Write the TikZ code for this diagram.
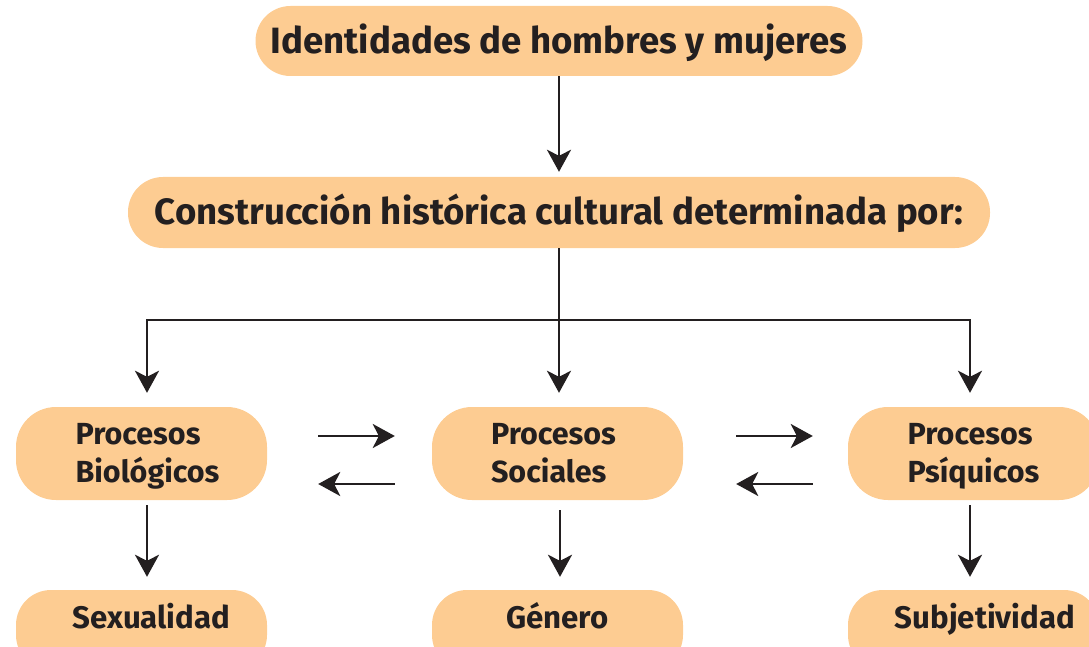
\documentclass[tikz,border=0pt]{standalone}
\usepackage{fontspec}
\setmainfont{Fira Sans}
\usetikzlibrary{arrows.meta}
\definecolor{boxfill}{RGB}{253,204,146}
\definecolor{ink}{RGB}{35,31,32}
\begin{document}
\begin{tikzpicture}[x=1pt,y=-1pt,
  box/.style={fill=boxfill, rounded corners=#1, inner sep=0pt, text=ink},
  box/.default=35pt,
  bigtext/.style={font=\bfseries\fontsize{36.6}{40}\selectfont, text height=25pt, text depth=0pt},
  midbox/.style={box=40pt, minimum width=251pt, minimum height=93pt, align=left,
     font=\bfseries\fontsize{30.5}{38}\selectfont},
  botbox/.style={box=35pt, minimum width=251pt, minimum height=80pt,
     font=\bfseries\fontsize{31.2}{34}\selectfont, text height=21pt, text depth=25pt},
  conn/.style={draw=ink, line width=2.5pt},
  arr/.style={conn, -{Stealth[length=22pt,width=24pt,inset=6pt]}}]
\useasboundingbox (0,0) rectangle (1089,647);
\clip (0,0) rectangle (1089,647);

\node[box, minimum width=607pt, minimum height=70pt, bigtext] (top) at (559,41) {Identidades de hombres y mujeres};
\node[box, minimum width=862pt, minimum height=71pt, bigtext] (second) at (559,212.5) {Construcción histórica cultural determinada por:};

\node[midbox] (bio) at (141.5,453.5) {\rule{12pt}{0pt}\rule{0pt}{27pt}Procesos\\\rule{12pt}{0pt}Biológicos\rule[-7pt]{0pt}{7pt}};
\node[midbox] (soc) at (557.5,453.5) {\rule{0pt}{27pt}Procesos\rule{8pt}{0pt}\\Sociales\rule[-7pt]{0pt}{7pt}};
\node[midbox] (psi) at (973.5,453.5) {\rule{0pt}{27pt}Procesos\\Psíquicos\rule[-7pt]{0pt}{7pt}};

\node[botbox] (sex) at (141.5,630) {\hspace{20pt}Sexualidad};
\node[botbox] (gen) at (557.5,630) {Género\hspace{13pt}};
\node[botbox] (sub) at (973.5,630) {\hspace{23pt}Subjetividad};

\coordinate (split) at (559,320);
\draw[arr, shorten >=5pt] (top.south) -- (second.north);
\draw[conn] (second.south) -- (split);
\draw[arr, shorten >=14pt] (split) -| ([xshift=5.5pt]bio.north);
\draw[arr, shorten >=14pt] (split) -- (split |- soc.north);
\draw[arr, shorten >=14pt] (split) -| ([xshift=-3.5pt]psi.north);

\draw[arr, shorten <=51pt, shorten >=37pt] ([yshift=17.5pt]bio.east) -- ([yshift=17.5pt]soc.west);
\draw[arr, shorten <=37pt, shorten >=51pt] ([yshift=-30.5pt]soc.west) -- ([yshift=-30.5pt]bio.east);
\draw[arr, shorten <=53pt, shorten >=35pt] ([yshift=17.5pt]soc.east) -- ([yshift=17.5pt]psi.west);
\draw[arr, shorten <=35pt, shorten >=53pt] ([yshift=-30.5pt]psi.west) -- ([yshift=-30.5pt]soc.east);

\draw[arr, shorten <=5pt, shorten >=13pt] ([xshift=5.5pt]bio.south) -- ([xshift=5.5pt]sex.north);
\draw[arr, shorten <=10pt, shorten >=13pt] ([xshift=2.5pt]soc.south) -- ([xshift=2.5pt]gen.north);
\draw[arr, shorten <=5pt, shorten >=13pt] ([xshift=-3.5pt]psi.south) -- ([xshift=-3.5pt]sub.north);
\end{tikzpicture}
\end{document}
